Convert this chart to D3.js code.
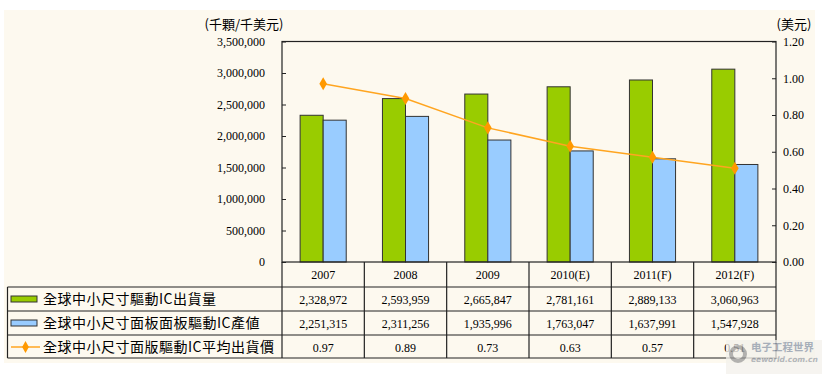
<!DOCTYPE html>
<html><head><meta charset="utf-8">
<script src="https://cdn.jsdelivr.net/npm/d3@7"></script>
<style>
html,body{margin:0;padding:0;background:#fff;}
svg{display:block;}
</style>
</head><body>
<svg id="chart" width="824" height="376"></svg>
<script>
const categories = ["2007","2008","2009","2010(E)","2011(F)","2012(F)"];
const shipments = [2328972, 2593959, 2665847, 2781161, 2889133, 3060963];
const outputValue = [2251315, 2311256, 1935996, 1763047, 1637991, 1547928];
const avgPrice = [0.97, 0.89, 0.73, 0.63, 0.57, 0.51];
const leftTicks = [0,500000,1000000,1500000,2000000,2500000,3000000,3500000];
const rightTicks = [0,0.2,0.4,0.6,0.8,1.0,1.2];
const seriesNames = ["全球中小尺寸驅動IC出貨量","全球中小尺寸面板面板驅動IC產値","全球中小尺寸面版驅動IC平均出貨價"];

const svg = d3.select("#chart");
const L = 282, R = 776, T = 41.5, B = 262;
const numFont = "'Liberation Serif','Times New Roman',serif";
const cjkFont = "'Noto Sans CJK TC','Noto Sans CJK SC',sans-serif";
const green = "#99CC00", blue = "#99CCFF", orange = "#FF9900";
const lineCol = "#222";

svg.append("rect").attr("x",4).attr("y",10).attr("width",811).attr("height",353).attr("fill","#FDF9EF");

const x = d3.scaleBand().domain(categories).range([L,R]).paddingInner(0).paddingOuter(0);
const yL = d3.scaleLinear().domain([0,3500000]).range([B,T]);
const yR = d3.scaleLinear().domain([0,1.2]).range([B,T]);
const bw = x.bandwidth()*0.28;

// bars
const g = svg.append("g");
g.selectAll(".b1").data(shipments).join("rect")
  .attr("x",(d,i)=>x(categories[i])+x.bandwidth()/2-bw)
  .attr("y",d=>yL(d)).attr("width",bw).attr("height",d=>B-yL(d))
  .attr("fill",green).attr("stroke","#333").attr("stroke-width",1);
g.selectAll(".b2").data(outputValue).join("rect")
  .attr("x",(d,i)=>x(categories[i])+x.bandwidth()/2)
  .attr("y",d=>yL(d)).attr("width",bw).attr("height",d=>B-yL(d))
  .attr("fill",blue).attr("stroke","#333").attr("stroke-width",1);

// line
const line = d3.line().x((d,i)=>x(categories[i])+x.bandwidth()/2).y(d=>yR(d));
svg.append("path").datum(avgPrice).attr("d",line).attr("fill","none").attr("stroke","#FFA520").attr("stroke-width",1.5);
svg.selectAll(".pt").data(avgPrice).join("path")
  .attr("transform",(d,i)=>`translate(${x(categories[i])+x.bandwidth()/2},${yR(d)})`)
  .attr("d",d3.symbol(d3.symbolDiamond,50)).attr("fill",orange);

// plot frame
svg.append("rect").attr("x",L).attr("y",T).attr("width",R-L).attr("height",B-T)
  .attr("fill","none").attr("stroke",lineCol).attr("stroke-width",1.2);

// axes
const axL = svg.append("g").attr("transform",`translate(${L},0)`)
  .call(d3.axisLeft(yL).tickValues(leftTicks).tickFormat(d3.format(",")).tickSize(-4).tickPadding(17));
const axR = svg.append("g").attr("transform",`translate(${R},0)`)
  .call(d3.axisRight(yR).tickValues(rightTicks).tickFormat(d3.format(".2f")).tickSize(-4).tickPadding(7));
[axL,axR].forEach(a=>{
  a.select(".domain").remove();
  a.selectAll(".tick line").attr("stroke",lineCol);
  a.selectAll("text").attr("font-family",numFont).attr("font-size",12).attr("fill","#000");
});

svg.append("text").attr("x",244).attr("y",29).attr("text-anchor","middle")
  .attr("font-family",cjkFont).attr("font-size",13).text("(千顆/千美元)");
svg.append("text").attr("x",794).attr("y",29).attr("text-anchor","middle")
  .attr("font-family",cjkFont).attr("font-size",13).text("(美元)");

// table
const rowY = [262, 287, 311, 335, 358];
const tl = svg.append("g").attr("stroke",lineCol).attr("stroke-width",1.2);
rowY.slice(1).forEach(yv=>tl.append("line").attr("x1",7.5).attr("x2",R).attr("y1",yv).attr("y2",yv));
tl.append("line").attr("x1",7.5).attr("x2",7.5).attr("y1",287).attr("y2",358);
categories.forEach(c=>tl.append("line").attr("x1",x(c)).attr("x2",x(c)).attr("y1",B).attr("y2",358));
tl.append("line").attr("x1",R).attr("x2",R).attr("y1",B).attr("y2",358);

const tx = svg.append("g").attr("font-family",numFont).attr("font-size",12).attr("text-anchor","middle");
categories.forEach((c,i)=>{
  const cx = x(c)+x.bandwidth()/2;
  tx.append("text").attr("x",cx).attr("y",279).text(c);
  tx.append("text").attr("x",cx).attr("y",304).text(d3.format(",")(shipments[i]));
  tx.append("text").attr("x",cx).attr("y",328).text(d3.format(",")(outputValue[i]));
  tx.append("text").attr("x",cx).attr("y",352).text(d3.format(".2f")(avgPrice[i]));
});

// legend
const rowC = [299, 323, 347];
svg.append("rect").attr("x",11).attr("y",rowC[0]-3).attr("width",26).attr("height",6).attr("fill",green).attr("stroke","#333");
svg.append("rect").attr("x",11).attr("y",rowC[1]-3).attr("width",26).attr("height",6).attr("fill",blue).attr("stroke","#333");
svg.append("line").attr("x1",11).attr("x2",40).attr("y1",rowC[2]).attr("y2",rowC[2]).attr("stroke","#FFA520").attr("stroke-width",1.5);
svg.append("path").attr("transform",`translate(25.5,${rowC[2]})`).attr("d",d3.symbol(d3.symbolDiamond,40)).attr("fill",orange);
seriesNames.forEach((n,i)=>{
  svg.append("text").attr("x",43).attr("y",rowC[i]+5).attr("font-family",cjkFont).attr("font-size",14)
    .attr("letter-spacing",0.5).text(n);
});

// watermark
const wm = svg.append("g").attr("opacity",0.75);
wm.append("rect").attr("x",726).attr("y",340).attr("width",96).attr("height",34).attr("fill","#f3f1ec");
wm.append("circle").attr("cx",738).attr("cy",354).attr("r",7).attr("fill","none").attr("stroke","#9a9a9a").attr("stroke-width",4);
wm.append("text").attr("x",751).attr("y",351).attr("font-family",cjkFont).attr("font-size",10.5).attr("font-weight","bold").attr("fill","#8a96a8").text("电子工程世界");
wm.append("text").attr("x",751).attr("y",362).attr("font-family","'DejaVu Sans',sans-serif").attr("font-size",7.5).attr("font-style","italic").attr("font-weight","bold").attr("fill","#9aa0a8").text("eeworld.com.cn");
</script>
</body></html>
